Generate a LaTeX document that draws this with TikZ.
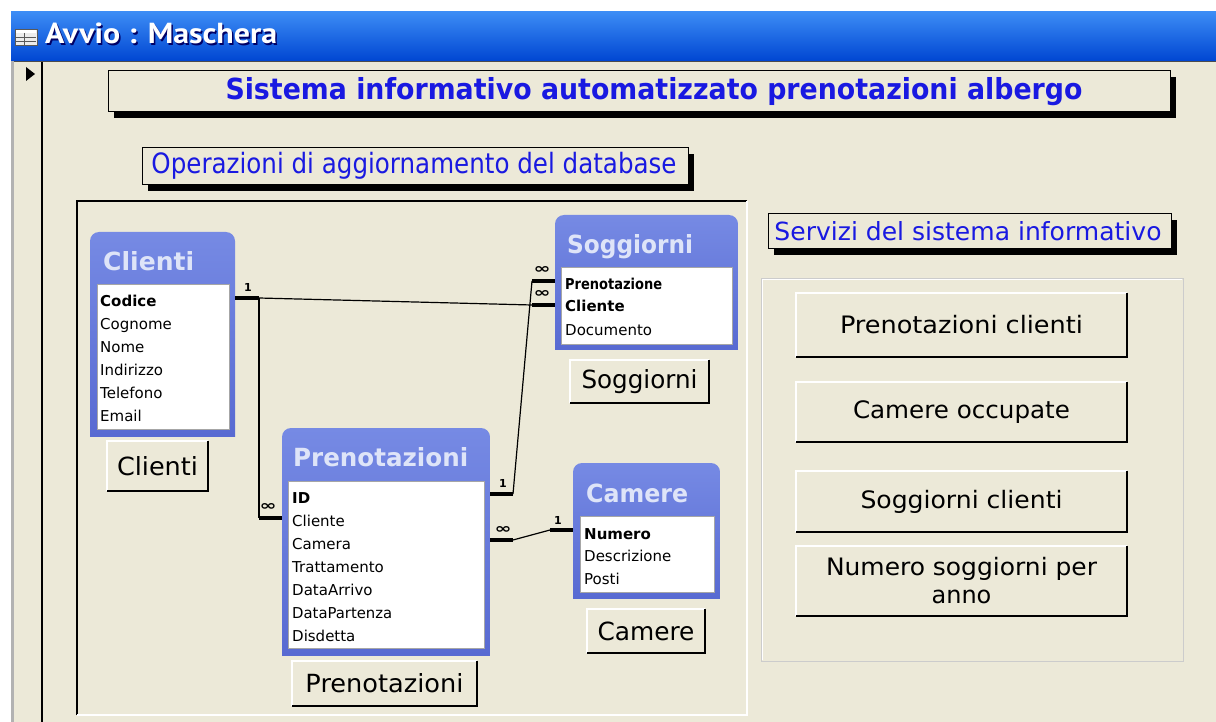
\documentclass[tikz,border=0pt]{standalone}
\usepackage{fontspec}
\setmainfont{DejaVu Sans}
\newfontfamily\ptsans{PT Sans}
\usepackage{graphicx}
\usetikzlibrary{shadows}
\definecolor{xpbeige}{RGB}{236,233,216}
\definecolor{barTop}{RGB}{60,140,245}
\definecolor{barMid}{RGB}{0,88,230}
\definecolor{barBot}{RGB}{0,70,210}
\definecolor{lblblue}{RGB}{25,25,225}
\definecolor{tblTop}{RGB}{118,138,228}
\definecolor{tblBot}{RGB}{88,106,210}
\definecolor{tblTxt}{RGB}{222,228,248}
\newcommand{\fsz}[1]{\fontsize{#1}{#1}\selectfont}
\newcommand{\fitw}[2]{\resizebox{#1pt}{\height}{#2}}
\tikzset{
  lbox/.style={draw=black, line width=1pt, fill=xpbeige, inner sep=0pt,
    drop shadow={shadow xshift=6pt, shadow yshift=-6pt, fill=black, opacity=1}},
  btn/.style={fill=xpbeige, inner sep=0pt, align=center, text=black, font=\fontsize{24}{28}\selectfont},
  row/.style={anchor=base west, inner sep=0pt, font=\fsz{15}},
  rowb/.style={anchor=base west, inner sep=0pt, font=\fsz{15}\bfseries},
  ttl/.style={anchor=base west, inner sep=0pt, text=tblTxt, font=\fsz{25}\bfseries},
  stub/.style={line width=4pt},
  rel/.style={line width=1.2pt},
  card/.style={inner sep=0pt, font=\fsz{11}\bfseries},
  inf/.style={inner sep=0pt, font=\fsz{18}\bfseries},
}
\newcommand{\btnat}[6]{%
  \node[btn, minimum width={(#4-#2)*1pt}, minimum height={(#5-#3)*1pt}] (#1) at ({(#2+#4)/2},{(#3+#5)/2}) {#6};
  \draw[white, line width=1.5pt] (#1.south west) |- (#1.north east);
  \draw[black, line width=2pt] (#1.north east) |- (#1.south west);
}
\newcommand{\tblbox}[8]{%
  \begin{scope}
  \clip[rounded corners=9pt] (#1,#2) rectangle (#3,#4+14);
  \clip (#1,#2) rectangle (#3,#4);
  \shade[top color=tblTop, bottom color=tblBot] (#1,#2) rectangle (#3,#4);
  \end{scope}
  \draw[gray!70, fill=white] (#5,#6) rectangle (#7,#8);
}
\begin{document}
\begin{tikzpicture}[x=1pt,y=-1pt]
\useasboundingbox (0,0) rectangle (1216,722);
\fill[white] (0,0) rectangle (1216,722);
\fill[xpbeige] (11,61) rectangle (1216,722);
% title bar
\shade[top color=barTop, middle color=barMid, bottom color=barBot] (11,12) rectangle (1216,61);
\draw[gray!60!black, line width=1pt] (11,61.5) -- (1216,61.5);
\fill[gray!60] (11,61) rectangle (14,722);
% window icon
\draw[gray!70!black, fill=gray!15, line width=0.8pt] (15,29) rectangle (37,45);
\fill[white] (16,30) rectangle (36,33);
\draw[gray!70!black, line width=0.8pt] (16,37) -- (36,37) (16,41) -- (36,41) (24,33) -- (24,45);
\node[anchor=base west, inner sep=0pt, text=blue!40!black, font=\ptsans\bfseries\fsz{29}] (wtshadow) at (46.5,45.5) {\fitw{232}{Avvio : Maschera}};
\node[anchor=base west, inner sep=0pt, text=white, font=\ptsans\bfseries\fsz{29}] (wintitle) at (45,44) {\fitw{232}{Avvio : Maschera}};
% record selector
\draw[black, line width=1.2pt] (42,62) -- (42,722);
\fill[black] (26,67) -- (35,74) -- (26,81) -- cycle;
% main title
\node[lbox, minimum width=1062pt, minimum height=41pt] (titlebox) at (639,91.5) {};
\node[inner sep=0pt, text=lblblue, font=\fsz{29}\bfseries] (titletext) at (654,92) {\fitw{857}{Sistema informativo automatizzato prenotazioni albergo}};
% database section
\node[lbox, minimum width=546pt, minimum height=37pt] (opbox) at (415,166.5) {};
\node[inner sep=0pt, text=lblblue, font=\fsz{28}] (optext) at (414,166) {\fitw{525}{Operazioni di aggiornamento del database}};
\draw[black, line width=1.2pt] (77,715) -- (77,201) -- (747,201);
\draw[white, line width=1.2pt] (747,201) -- (747,715) -- (77,715);
% services section
\node[lbox, minimum width=403pt, minimum height=35pt] (servbox) at (969.5,231.5) {};
\node[inner sep=0pt, text=lblblue, font=\fsz{25}] (servtext) at (968,231) {\fitw{387}{Servizi del sistema informativo}};
\draw[gray!40, line width=1pt] (761,661) -- (761,279) -- (1183,279) -- (1183,661) -- cycle;
\draw[white, line width=1pt] (762,660) -- (762,280) -- (1182,280);
\btnat{b1}{796}{293}{1127}{357}{\fitw{243}{Prenotazioni clienti}}
\btnat{b2}{796}{382}{1127}{442}{\fitw{217}{Camere occupate}}
\btnat{b3}{796}{471}{1127}{532}{\fitw{202}{Soggiorni clienti}}
\btnat{b4}{796}{546}{1127}{616}{\fitw{271}{Numero soggiorni per}\\anno}
% tables
\tblbox{90}{232}{235}{436}{97}{284}{229}{429}
\node[ttl] (cliT) at (103,271) {\fitw{91}{Clienti}};
\node[rowb] (cli1) at (100,306) {Codice};
\node[row] (cli2) at (100,329) {Cognome};
\node[row] (cli3) at (100,352) {Nome};
\node[row] (cli4) at (100,375) {Indirizzo};
\node[row] (cli5) at (100,398) {Telefono};
\node[row] (cli6) at (100,421) {Email};
\btnat{cliB}{107}{441}{208}{491}{\fsz{25}\fitw{81}{Clienti}}

\tblbox{555}{215}{738}{349}{561}{267}{732}{344}
\node[ttl] (sogT) at (567,254) {\fitw{126}{Soggiorni}};
\node[rowb] (sog1) at (565,290) {\fitw{97}{Prenotazione}};
\node[rowb] (sog2) at (565,312) {Cliente};
\node[row] (sog3) at (565,335) {Documento};
\btnat{sogB}{570}{360}{709}{403}{\fsz{25}\fitw{116}{Soggiorni}}

\tblbox{282}{428}{490}{655}{288}{481}{484}{648}
\node[ttl] (preT) at (293,466) {\fitw{175}{Prenotazioni}};
\node[rowb] (pre1) at (292,503) {ID};
\node[row] (pre2) at (292,526) {Cliente};
\node[row] (pre3) at (292,549) {Camera};
\node[row] (pre4) at (292,572) {Trattamento};
\node[row] (pre5) at (292,595) {DataArrivo};
\node[row] (pre6) at (292,618) {\fitw{100}{DataPartenza}};
\node[row] (pre7) at (292,641) {Disdetta};
\btnat{preB}{292}{661}{477}{706}{\fsz{25}\fitw{158}{Prenotazioni}}

\tblbox{573}{463}{720}{598}{580}{516}{714}{592}
\node[ttl] (camT) at (586,502) {\fitw{102}{Camere}};
\node[rowb] (cam1) at (584,539) {Numero};
\node[row] (cam2) at (584,561) {Descrizione};
\node[row] (cam3) at (584,584) {Posti};
\btnat{camB}{587}{609}{705}{653}{\fsz{25}\fitw{97}{Camere}}

% relationship end points
\coordinate (cliA) at (235,298);
\coordinate (cliJ) at (259,298);
\coordinate (preLJ) at (259,518);
\coordinate (preLA) at (282,518);
\coordinate (sogPA) at (555,281);
\coordinate (sogPJ) at (532,281);
\coordinate (sogCA) at (555,305);
\coordinate (sogCJ) at (532,305);
\coordinate (preRA1) at (490,494);
\coordinate (preRJ1) at (513,494);
\coordinate (preRA2) at (490,540);
\coordinate (preRJ2) at (513,540);
\coordinate (camJ) at (550,530);
\coordinate (camA) at (573,530);
% connectors
\draw[rel] (cliJ) -- (sogCJ);
\draw[rel] (cliJ) -- (preLJ);
\draw[rel] (preRJ1) -- (sogPJ);
\draw[rel] (preRJ2) -- (camJ);
\draw[stub] (cliA) -- (cliJ);
\draw[stub] (preLJ) -- (preLA);
\draw[stub] (sogPJ) -- (sogPA);
\draw[stub] (sogCJ) -- (sogCA);
\draw[stub] (preRA1) -- (preRJ1);
\draw[stub] (preRA2) -- (preRJ2);
\draw[stub] (camJ) -- (camA);
% cardinalities
\node[card] (c1) at (248,287) {1};
\node[inf] (c2) at (268,507) {\resizebox{17pt}{7pt}{∞}};
\node[inf] (c3) at (542,270) {\resizebox{17pt}{7pt}{∞}};
\node[inf] (c4) at (542,294) {\resizebox{17pt}{7pt}{∞}};
\node[card] (c5) at (503,483) {1};
\node[inf] (c6) at (503,530) {\resizebox{17pt}{7pt}{∞}};
\node[card] (c7) at (558,520) {1};
\end{tikzpicture}
\end{document}
